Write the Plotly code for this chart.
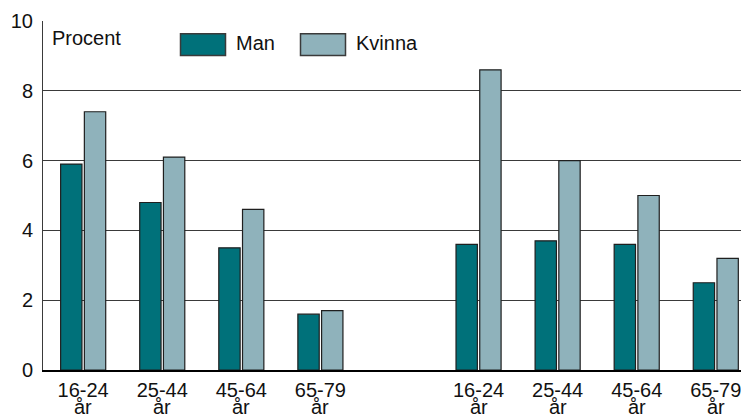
import plotly.graph_objects as go

# ---- data ----
age_groups = ["16-24", "25-44", "45-64", "65-79"]
age_unit = "år"
left_man = [5.9, 4.8, 3.5, 1.6]
left_kvinna = [7.4, 6.1, 4.6, 1.7]
right_man = [3.6, 3.7, 3.6, 2.5]
right_kvinna = [8.6, 6.0, 5.0, 3.2]
y_ticks = [0, 2, 4, 6, 8, 10]

left_pos = [0, 1, 2, 3]
right_pos = [5, 6, 7, 8]
x_pos = left_pos + right_pos
tick_text = age_groups + age_groups

man_color = "#00717A"
kvinna_color = "#8FB2BB"
edge = "#1f1f1f"
font_family = "Liberation Sans, Arial, Helvetica, sans-serif"
fs = 20

# page body has an 8px default margin: shrink the figure so the plot area
# lands at x 43..749, y 21..370 in the window
PAGE_OFF = 8

fig = go.Figure()
fig.add_trace(go.Bar(x=x_pos, y=left_man + right_man, name="Man",
                     marker=dict(color=man_color, line=dict(color=edge, width=1.2))))
fig.add_trace(go.Bar(x=x_pos, y=left_kvinna + right_kvinna, name="Kvinna",
                     marker=dict(color=kvinna_color, line=dict(color=edge, width=1.2))))

fig.update_layout(
    width=749 - PAGE_OFF, height=418 - PAGE_OFF,
    margin=dict(l=43 - PAGE_OFF, r=0, t=21 - PAGE_OFF, b=48, pad=0),
    paper_bgcolor="white", plot_bgcolor="white",
    barmode="group", bargap=0.40, bargroupgap=0.10,
    showlegend=False,
    font=dict(family=font_family, size=fs, color="#111"),
)
fig.update_xaxes(
    range=[-0.508, 8.42], tickvals=x_pos, ticktext=tick_text, automargin=False,
    showgrid=False, zeroline=False, showline=True, linecolor="#000", linewidth=2,
    ticks="", ticklabelstandoff=1, tickfont=dict(size=fs, family=font_family),
)
fig.update_yaxes(
    range=[0, 10], tickvals=y_ticks, showgrid=True, gridcolor="#3a3a3a", gridwidth=1,
    zeroline=False, showline=True, linecolor="#3a3a3a", linewidth=1, automargin=False,
    ticks="", ticklabelstandoff=5, tickfont=dict(size=fs, family=font_family),
)

# helpers: window pixel -> paper coordinates of the plot area
def px_x(p):
    return (p - 43) / 706.0

def px_y(p):
    return (370 - p) / 349.0

# second line of the tick labels ("år"), tighter than Plotly's line spacing
for xp in x_pos:
    fig.add_annotation(xref="x", yref="paper", x=xp, y=px_y(407.5), text=age_unit,
                       showarrow=False, xanchor="center", yanchor="middle",
                       font=dict(size=fs, family=font_family, color="#111"))

# custom legend (boxes + labels)
legend_items = [("Man", man_color, 180.5, 236), ("Kvinna", kvinna_color, 300.5, 356)]
for label, color, bx, tx in legend_items:
    fig.add_shape(type="rect", xref="paper", yref="paper",
                  x0=px_x(bx), x1=px_x(bx + 45), y0=px_y(55.5), y1=px_y(33.8),
                  fillcolor=color, line=dict(color="#3a3a3a", width=1.5))
    fig.add_annotation(xref="paper", yref="paper", x=px_x(tx - 2), y=px_y(43.5),
                       text=label, showarrow=False, xanchor="left", yanchor="middle",
                       font=dict(size=fs, family=font_family, color="#111"))

fig.add_annotation(xref="paper", yref="paper", x=px_x(50), y=px_y(38),
                   text="Procent", showarrow=False, xanchor="left", yanchor="middle",
                   font=dict(size=fs, family=font_family, color="#111"))

fig.write_html("out.html")
